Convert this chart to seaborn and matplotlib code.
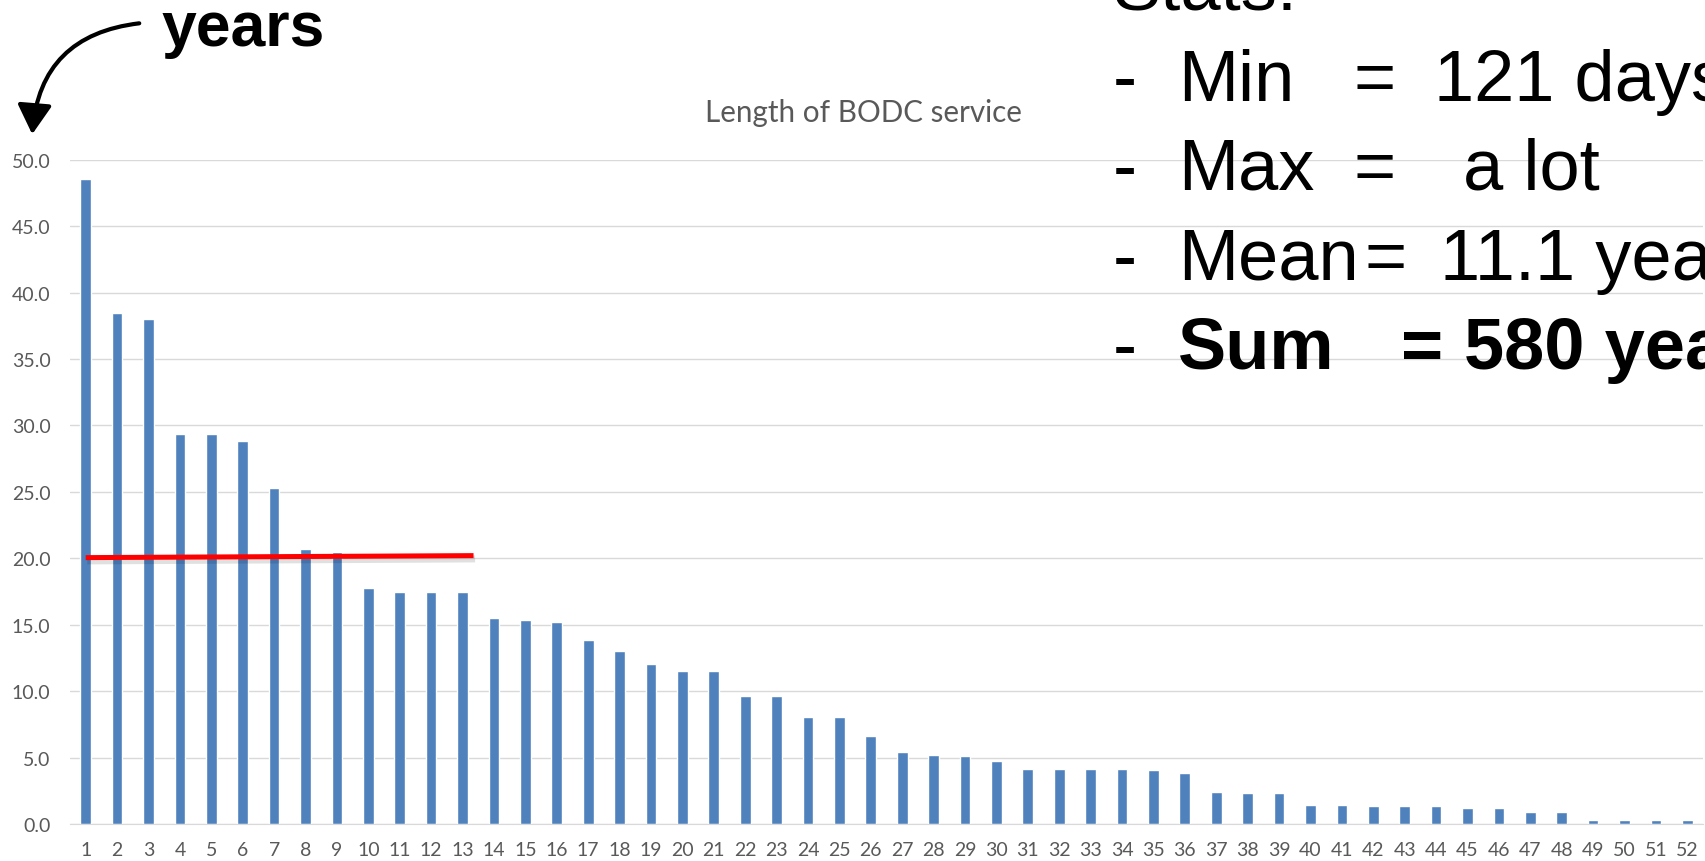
import matplotlib
matplotlib.use("Agg")
import matplotlib.pyplot as plt
import seaborn as sns
import pandas as pd
from matplotlib.patches import FancyArrowPatch

# -----------------------------
# DATA
# -----------------------------
staff = [str(i) for i in range(1, 53)]
service_years = [48.55, 38.48, 38.03, 29.36, 29.36, 28.83, 25.27, 20.67, 20.44, 17.77,
                 17.44, 17.44, 17.44, 15.47, 15.38, 15.18, 13.88, 13.0, 12.02, 11.49,
                 11.49, 9.66, 9.66, 8.03, 8.03, 6.6, 5.42, 5.19, 5.09, 4.77,
                 4.12, 4.12, 4.12, 4.12, 4.06, 3.83, 2.41, 2.31, 2.31, 1.42,
                 1.42, 1.32, 1.32, 1.32, 1.22, 1.22, 0.89, 0.89, 0.33, 0.33,
                 0.33, 0.33]
y_ticks = [0, 5, 10, 15, 20, 25, 30, 35, 40, 45, 50]

# red "half the total" marker (data coords: bar index, years)
red_x = [0, 12.35]
red_y = [20.05, 20.2]

stat_labels = ["Min", "Max", "Mean", "Sum"]
stat_values = ["121 days", "a lot", "11.1 years", "580 years"]

df = pd.DataFrame({"staff": staff, "years": service_years})

# -----------------------------
# PLOT
# -----------------------------
sns.set_style("white")
plt.rcParams["font.family"] = ["Lato", "DejaVu Sans"]

fig = plt.figure(figsize=(17.06, 8.62), dpi=100)
ax = fig.add_axes([70 / 1706, 1 - 825 / 862, (1703 - 70) / 1706, (825 - 160.7) / 862])

sns.barplot(data=df, x="staff", y="years", color="#4F81BD", saturation=1,
            width=0.34, ax=ax)

ax.set_ylim(0, 50)
ax.set_xlim(-0.5, len(staff) - 0.5)
ax.set_yticks(y_ticks)
ax.set_yticklabels([f"{t:.1f}" for t in y_ticks])
ax.yaxis.grid(True, color="#d9d9d9", lw=1)
ax.set_axisbelow(True)
for s in ["top", "right", "left"]:
    ax.spines[s].set_visible(False)
ax.spines["bottom"].set_color("#d9d9d9")
ax.tick_params(axis="both", length=0, labelsize=14, colors="#595959")
ax.tick_params(axis="y", pad=14)
ax.tick_params(axis="x", pad=12)
ax.set_xlabel("")
ax.set_ylabel("")

# red line annotation with soft shadow
ax.plot([x + 0.05 for x in red_x], [y - 0.25 for y in red_y], color="#000000",
        alpha=0.12, lw=5, solid_capstyle="butt")
ax.plot(red_x, red_y, color="#ff0000", lw=3.6, solid_capstyle="butt")

# chart title
fig.text(863 / 1706, 1 - 122 / 862, "Length of BODC service", ha="center",
         va="baseline", fontsize=21.3, color="#595959")

# -----------------------------
# SLIDE TEXT
# -----------------------------
arial = ["Liberation Sans", "DejaVu Sans"]
fig.text(161 / 1706, 1 - 46 / 862, "years", fontsize=45, fontweight="bold",
         family=arial, va="baseline", ha="left", color="black")

arrow = FancyArrowPatch((142 / 1706, 1 - 24 / 862), (32 / 1706, 1 - 138 / 862),
                        transform=fig.transFigure,
                        connectionstyle="arc3,rad=0.42",
                        arrowstyle="-|>,head_length=0.6,head_width=0.35",
                        mutation_scale=30, lw=3, color="black")
fig.add_artist(arrow)

fs = 52
fig.text(1113 / 1706, 1 - 9 / 862, "Stats:", fontsize=fs, family=arial,
         va="baseline", ha="left", color="black")
baselines = [101, 190, 280, 369]
eq_x = [1354, 1354, 1365, 1401]
val_x = [1434, 1463, 1440, 1464]
for i, (lab, val) in enumerate(zip(stat_labels, stat_values)):
    w = "bold" if lab == "Sum" else "normal"
    yb = 1 - baselines[i] / 862
    fig.text(1113 / 1706, yb, "-", fontsize=fs, family=arial, va="baseline",
             color="black")
    fig.text(1178 / 1706, yb, lab, fontsize=fs, family=arial, va="baseline",
             fontweight=w, color="black")
    fig.text(eq_x[i] / 1706, yb, "=", fontsize=fs, family=arial, va="baseline",
             fontweight=w, color="black")
    fig.text(val_x[i] / 1706, yb, val, fontsize=fs, family=arial, va="baseline",
             fontweight=w, color="black")

fig.savefig("out.png", dpi=100)
